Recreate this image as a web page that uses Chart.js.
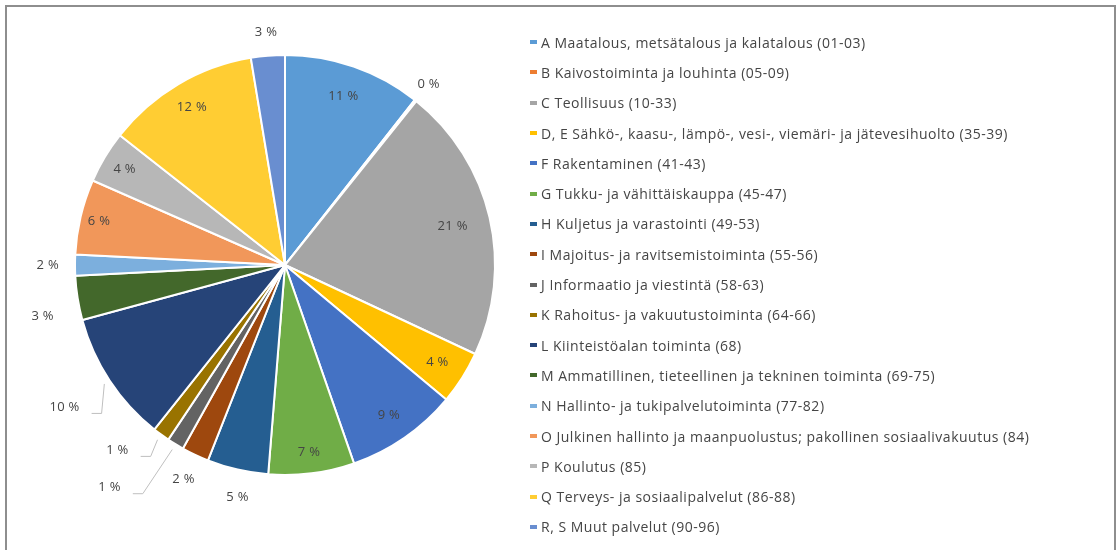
<!DOCTYPE html>
<html>
<head>
<meta charset="utf-8">
<script src="https://cdn.jsdelivr.net/npm/chart.js@4.4.0/dist/chart.umd.min.js"></script>
<style>
  body { margin: 0; background: #fff; }
  .wrap { position: relative; width: 1117px; height: 550px; overflow: hidden; }
  .frame { position: absolute; left: 5px; top: 5px; width: 1107px; height: 600px; border: 2px solid #8e8e8e; }
  #myChart { position: absolute; left: 0; top: 0; }
  .legend { position: absolute; left: 530px; top: 27px; width: 584px; overflow: hidden; margin: 0; padding: 0; list-style: none;
            font-family: 'Open Sans', sans-serif; font-size: 14px; letter-spacing: 0.5px; color: #454545; }
  .legend li { height: 30.3px; display: flex; align-items: center; white-space: nowrap; }
  .legend .box { width: 7px; height: 4px; margin-right: 4px; flex: none; }
</style>
</head>
<body>
<div class="wrap">
  <div class="frame"></div>
  <canvas id="myChart" width="1117" height="550"></canvas>
  <ul class="legend"></ul>
</div>
<script>
// toimialat (legend order = slice order, clockwise from 12 o'clock)
const categories = [
  'A Maatalous, metsätalous ja kalatalous (01-03)',
  'B Kaivostoiminta ja louhinta (05-09)',
  'C Teollisuus (10-33)',
  'D, E Sähkö-, kaasu-, lämpö-, vesi-, viemäri- ja jätevesihuolto (35-39)',
  'F Rakentaminen (41-43)',
  'G Tukku- ja vähittäiskauppa (45-47)',
  'H Kuljetus ja varastointi (49-53)',
  'I Majoitus- ja ravitsemistoiminta (55-56)',
  'J Informaatio ja viestintä (58-63)',
  'K Rahoitus- ja vakuutustoiminta (64-66)',
  'L Kiinteistöalan toiminta (68)',
  'M Ammatillinen, tieteellinen ja tekninen toiminta (69-75)',
  'N Hallinto- ja tukipalvelutoiminta (77-82)',
  'O Julkinen hallinto ja maanpuolustus; pakollinen sosiaalivakuutus (84)',
  'P Koulutus (85)',
  'Q Terveys- ja sosiaalipalvelut (86-88)',
  'R, S Muut palvelut (90-96)'
];

// osuudet, %
const shares = [10.6, 0.15, 21.2, 4.1, 8.6, 6.6, 4.7, 2.1, 1.3, 1.3, 10.1, 3.4, 1.6, 5.8, 4.0, 11.8, 2.6];

const colors = [
  '#5B9BD5', '#ED7D31', '#A5A5A5', '#FFC000', '#4472C4', '#70AD47',
  '#255E91', '#9E480E', '#636363', '#997300', '#264478', '#43682B',
  '#7CAFDD', '#F1975A', '#B7B7B7', '#FFCD33', '#698ED0'
];

// where each % label sits: distance as share of radius, angle nudge (deg), leader line
const labelDist  = [0.85, 1.1, 0.82, 0.86, 0.87, 0.9, 1.13, 1.13, 1.35, 1.19, 1.25, 1.18, 1.13, 0.91, 0.89, 0.87, 1.11];
const labelShift = [0, 0, 0, 0, 0, 0, -1.5, 0, 6.8, 6, 0.5, -3, 0, 0, 0, 0, 0];
const labelLeader = [false, false, false, false, false, false, false, false, true, true, true, false, false, false, false, false, false];

// build the html legend
const legendEl = document.querySelector('.legend');
categories.forEach((c, i) => {
  legendEl.insertAdjacentHTML('beforeend',
    `<li><span class="box" style="background:${colors[i]}"></span>${c}</li>`);
});

const percentLabels = {
  id: 'percentLabels',
  afterDatasetsDraw(chart) {
    const ctx = chart.ctx;
    const meta = chart.getDatasetMeta(0);
    const total = shares.reduce((a, b) => a + b, 0);
    ctx.save();
    ctx.font = '13px "Open Sans", sans-serif';
    ctx.letterSpacing = '0.3px';
    ctx.fillStyle = '#454545';
    ctx.textAlign = 'center';
    ctx.textBaseline = 'middle';
    meta.data.forEach((arc, i) => {
      const p = arc.getProps(['x', 'y', 'startAngle', 'endAngle', 'outerRadius'], true);
      const mid = (p.startAngle + p.endAngle) / 2;
      const a = mid + labelShift[i] * Math.PI / 180;
      const lx = p.x + Math.cos(a) * p.outerRadius * labelDist[i];
      const ly = p.y + Math.sin(a) * p.outerRadius * labelDist[i];
      const txt = Math.round(shares[i] / total * 100) + ' %';
      ctx.fillText(txt, lx, ly);
      if (labelLeader[i]) {
        const w = ctx.measureText(txt).width;
        const ex = p.x + Math.cos(mid) * p.outerRadius * 1.03;
        const ey = p.y + Math.sin(mid) * p.outerRadius * 1.03;
        ctx.strokeStyle = '#bfbfbf';
        ctx.lineWidth = 1;
        ctx.beginPath();
        ctx.moveTo(lx + w / 2 + 12, ly + 6);
        ctx.lineTo(lx + w / 2 + 22, ly + 6);
        ctx.lineTo(ex, ey);
        ctx.stroke();
      }
    });
    ctx.restore();
  }
};

const ctx = document.getElementById('myChart').getContext('2d');
const myChart = new Chart(ctx, {
  type: 'pie',
  data: {
    labels: categories,
    datasets: [{
      data: shares,
      backgroundColor: colors,
      borderColor: '#ffffff',
      borderWidth: 2,
      radius: 210
    }]
  },
  options: {
    responsive: false,
    animation: false,
    events: [],
    layout: { padding: { left: 0, top: 0, right: 547, bottom: 20 } },
    plugins: {
      legend: { display: false },
      tooltip: { enabled: false }
    }
  },
  plugins: [percentLabels]
});
</script>
</body>
</html>
